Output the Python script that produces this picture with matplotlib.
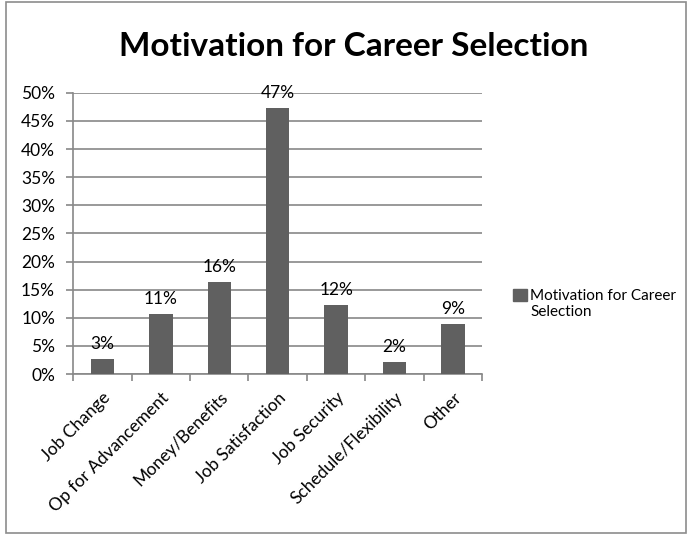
import matplotlib
matplotlib.use('agg')
from matplotlib import pyplot as plt
import matplotlib.ticker as mtick
from matplotlib.patches import Rectangle

plt.rcParams['font.family'] = ['Lato', 'DejaVu Sans']

categories = ['Job Change', 'Op for Advancement', 'Money/Benefits', 'Job Satisfaction',
              'Job Security', 'Schedule/Flexibility', 'Other']
shares = [2.7, 10.6, 16.3, 47.3, 12.3, 2.1, 8.9]
series_name = 'Motivation for Career Selection'
bar_color = '#606060'
grid_color = '#888888'

fig = plt.figure(figsize=(6.9, 5.36), dpi=100)
ax = fig.add_axes([0.106, 0.302, 0.593, 0.525])

x = list(range(len(categories)))
bars = ax.bar(x, shares, width=0.4, color=bar_color, zorder=3)

# value labels above each bar
for b, v in zip(bars, shares):
    ax.text(b.get_x() + b.get_width() / 2, v + 1.3, f'{v:.0f}%',
            ha='center', va='bottom', fontsize=12.5, color='black', zorder=4)

ax.set_xlim(-0.5, len(categories) - 0.5)
ax.set_ylim(0, 50)
ax.yaxis.set_major_locator(mtick.MultipleLocator(5))
ax.yaxis.set_major_formatter(mtick.FormatStrFormatter('%d%%'))
ax.grid(axis='y', color=grid_color, linewidth=1.2, zorder=0)
ax.set_axisbelow(True)

# category labels sit under bar centres, tick marks at category boundaries
ax.set_xticks(x)
ax.set_xticklabels(categories, rotation=45, ha='right', rotation_mode='anchor', fontsize=12.5)
ax.tick_params(axis='x', which='major', length=0, pad=11)
ax.set_xticks([i - 0.5 for i in range(len(categories) + 1)], minor=True)
ax.tick_params(axis='x', which='minor', length=5, width=1.2, color=grid_color, direction='out')
ax.tick_params(axis='y', length=5, width=1.2, color=grid_color, labelsize=12.5, pad=8)

for side in ['top', 'right']:
    ax.spines[side].set_visible(False)
for side in ['left', 'bottom']:
    ax.spines[side].set_color(grid_color)
    ax.spines[side].set_linewidth(1.2)

fig.text(0.512, 0.914, 'Motivation for Career Selection', ha='center', va='center',
         fontsize=24, fontweight='bold')

leg = ax.legend([Rectangle((0, 0), 1, 1, color=bar_color)],
                ['Motivation for Career\nSelection'],
                loc='center left', bbox_to_anchor=(1.057, 0.25), frameon=False, borderpad=0,
                fontsize=11, handlelength=0.9, handleheight=0.9, handletextpad=0.2)
# put the square level with the first line of the label
for col in leg._legend_handle_box.get_children():
    for row in col.get_children():
        row.align = 'top'

# chart border
fig.patches.append(Rectangle((0.008, 0.006), 0.986, 0.99, transform=fig.transFigure,
                             fill=False, edgecolor='#8c8c8c', linewidth=1.2))

fig.savefig('out.png', dpi=100)
